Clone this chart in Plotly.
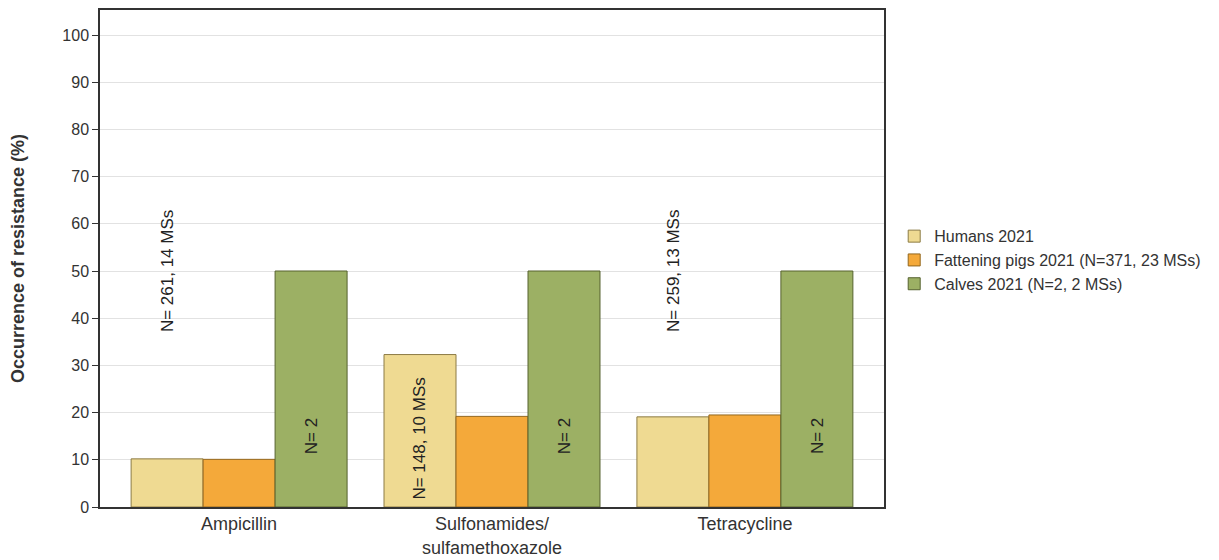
import plotly.graph_objects as go

# categories and series
antimicrobials = ["Ampicillin", "Sulfonamides/<br>sulfamethoxazole", "Tetracycline"]
humans = [10.2, 32.3, 19.1]
pigs = [10.1, 19.2, 19.5]
calves = [50, 50, 50]

humans_n = ["N= 261, 14 MSs", "N= 148, 10 MSs", "N= 259, 13 MSs"]
humans_n_y = [50, 14.5, 50]
calves_n = ["N= 2", "N= 2", "N= 2"]
calves_n_y = [15, 15, 15]

series = [
    ("Humans 2021", humans, "#EFDA92", "#8C7B45"),
    ("Fattening pigs 2021 (N=371, 23 MSs)", pigs, "#F4A93A", "#93671E"),
    ("Calves 2021 (N=2, 2 MSs)", calves, "#9CB064", "#56622F"),
]

fig = go.Figure()
for name, vals, col, edge in series:
    fig.add_trace(go.Bar(
        x=list(range(len(antimicrobials))), y=vals, name=name,
        marker=dict(color=col, line=dict(color=edge, width=1)),
    ))

bargap = 0.146
w = (1 - bargap) / 3
for i in range(len(antimicrobials)):
    fig.add_annotation(x=i - w, y=humans_n_y[i], text=humans_n[i], textangle=-90,
                       showarrow=False, font=dict(size=17, color="#222"))
    fig.add_annotation(x=i + w, y=calves_n_y[i], text=calves_n[i], textangle=-90,
                       showarrow=False, font=dict(size=17, color="#222"))

# page body adds an 8px offset, margins compensate for it
fig.update_layout(
    width=1219, height=560,
    margin=dict(l=92, r=343, t=2, b=61),
    barmode="group", bargap=bargap, bargroupgap=0,
    plot_bgcolor="white", paper_bgcolor="white",
    font=dict(family="Liberation Sans, Arial", size=16, color="#333"),
    showlegend=True,
    legend=dict(x=1.013, y=0.579, xanchor="left", yanchor="top",
                font=dict(size=16, color="#333"), tracegroupgap=0,
                itemwidth=30),
    xaxis=dict(
        tickmode="array", tickvals=list(range(len(antimicrobials))),
        ticktext=antimicrobials, range=[-0.55, 2.55],
        showline=True, linecolor="#333", linewidth=1.5, mirror=True,
        ticks="", automargin=False, tickfont=dict(size=18, color="#333"),
    ),
    yaxis=dict(
        range=[0, 105.3], tickvals=list(range(0, 101, 10)),
        showline=True, linecolor="#333", linewidth=1.5, mirror=True,
        ticks="outside", ticklen=6, tickcolor="#333",
        gridcolor="#E2E2E2", gridwidth=1, zeroline=False,
        tickfont=dict(size=16, color="#333"), automargin=False,
        title=dict(text="<b>Occurrence of resistance (%)</b>",
                   font=dict(size=18, color="#333"), standoff=34),
    ),
)

fig.write_html("out.html")
